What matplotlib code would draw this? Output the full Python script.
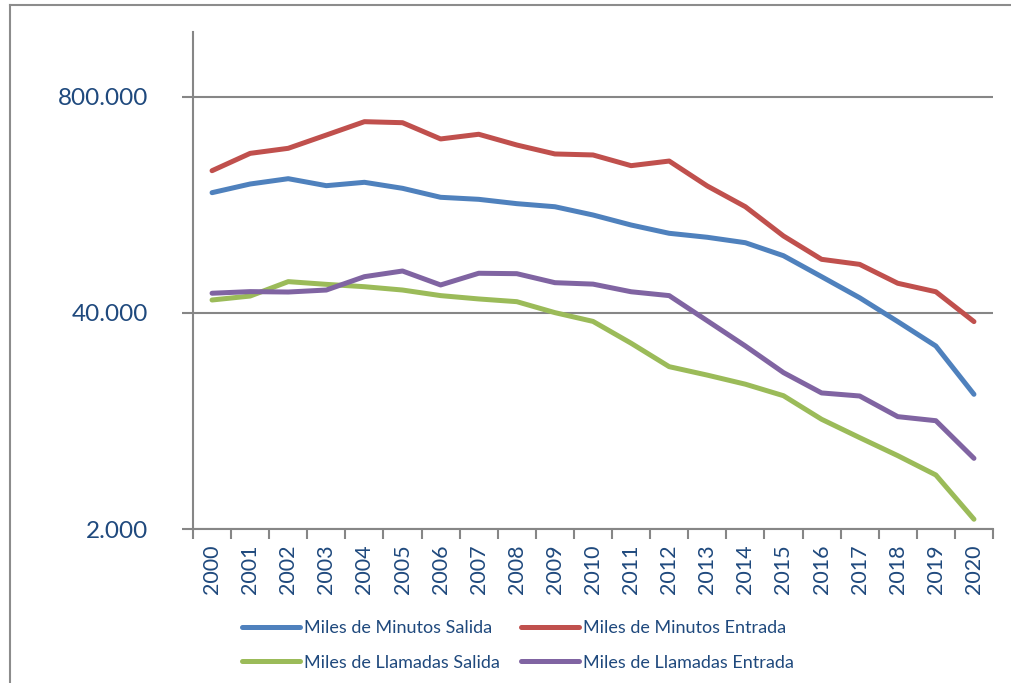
import matplotlib
matplotlib.use('Agg')
import matplotlib.pyplot as plt
from matplotlib.ticker import NullLocator, FixedLocator
from matplotlib.lines import Line2D

years = [str(y) for y in range(2000, 2021)]

minutos_salida = [212200, 239300, 257600, 233800, 245000, 225400, 199000, 193500,
                  182200, 174600, 155700, 135500, 120800, 114300, 106000, 88500,
                  66200, 49400, 35500, 25300, 12950]
minutos_entrada = [287800, 366000, 392600, 472000, 568000, 560000, 447000, 477000,
                   411000, 363000, 358000, 308600, 329000, 232800, 174600, 116400,
                   84200, 78500, 60400, 53700, 35500]
llamadas_salida = [47900, 50600, 61800, 59500, 57600, 55000, 50900, 48600,
                   46800, 40200, 35600, 26300, 19000, 16900, 14900, 12700,
                   9160, 7100, 5530, 4230, 2290]
llamadas_entrada = [52600, 53800, 53500, 55000, 66200, 71600, 59000, 69400,
                    69000, 60900, 59700, 53700, 50900, 35900, 25300, 17500,
                    13200, 12650, 9500, 8980, 5330]

ytick_values = [2000, 40000, 800000]
ytick_labels = ['2.000', '40.000', '800.000']

series = [
    ('Miles de Minutos Salida', minutos_salida, '#4F81BD'),
    ('Miles de Minutos Entrada', minutos_entrada, '#C0504D'),
    ('Miles de Llamadas Salida', llamadas_salida, '#9BBB59'),
    ('Miles de Llamadas Entrada', llamadas_entrada, '#8064A2'),
]

TXT = '#1F497D'
GRID = '#868686'

W, H = 1011, 683
fig = plt.figure(figsize=(W / 100, H / 100), dpi=100)
ax = fig.add_axes([193 / W, 154 / H, 800 / W, 497 / H])
ax.set_yscale('log')
ax.set_ylim(2000, 1.97e6)
ax.set_xlim(-0.5, len(years) - 0.5)

x = list(range(len(years)))
handles = {}
for label, vals, color in series:
    ln, = ax.plot(x, vals, color=color, lw=3.6, solid_capstyle='round',
                  solid_joinstyle='round', label=label, zorder=3)
    handles[label] = ln

ax.set_yticks(ytick_values)
ax.set_yticklabels(ytick_labels, fontfamily='Lato')
ax.yaxis.set_minor_locator(NullLocator())
ax.grid(axis='y', color=GRID, lw=1.5)
ax.set_axisbelow(True)

for s in ['top', 'right']:
    ax.spines[s].set_visible(False)
for s in ['left', 'bottom']:
    ax.spines[s].set_color(GRID)
    ax.spines[s].set_linewidth(1.5)

ax.set_xticks(x)
ax.set_xticklabels(years, rotation=90, family='Lato')
ax.xaxis.set_minor_locator(FixedLocator([i - 0.5 for i in range(len(years) + 1)]))
ax.tick_params(axis='x', which='major', length=0, pad=11, labelsize=15.5, labelcolor=TXT)
ax.tick_params(axis='x', which='minor', length=7, width=1.5, color=GRID, direction='out')
ax.tick_params(axis='y', which='major', length=8, width=1.5, color=GRID, pad=24,
               labelsize=17.5, labelcolor=TXT)

order = ['Miles de Minutos Salida', 'Miles de Llamadas Salida',
         'Miles de Minutos Entrada', 'Miles de Llamadas Entrada']
leg = fig.legend([handles[k] for k in order], order, ncol=2, loc='upper left',
                 bbox_to_anchor=(242 / W, 1 - 620 / H), frameon=False,
                 prop={'family': 'Lato', 'size': 13}, labelcolor=TXT,
                 handlelength=3.2, handletextpad=0.22, columnspacing=1.2,
                 labelspacing=1.03, borderpad=0, borderaxespad=0)

fig.add_artist(Line2D([10 / W, 1], [1 - 5 / H, 1 - 5 / H], transform=fig.transFigure,
                      color='#8C8C8C', lw=1.5))
fig.add_artist(Line2D([10 / W, 10 / W], [0, 1 - 5 / H], transform=fig.transFigure,
                      color='#8C8C8C', lw=1.5))

fig.savefig('out.png', dpi=100)
